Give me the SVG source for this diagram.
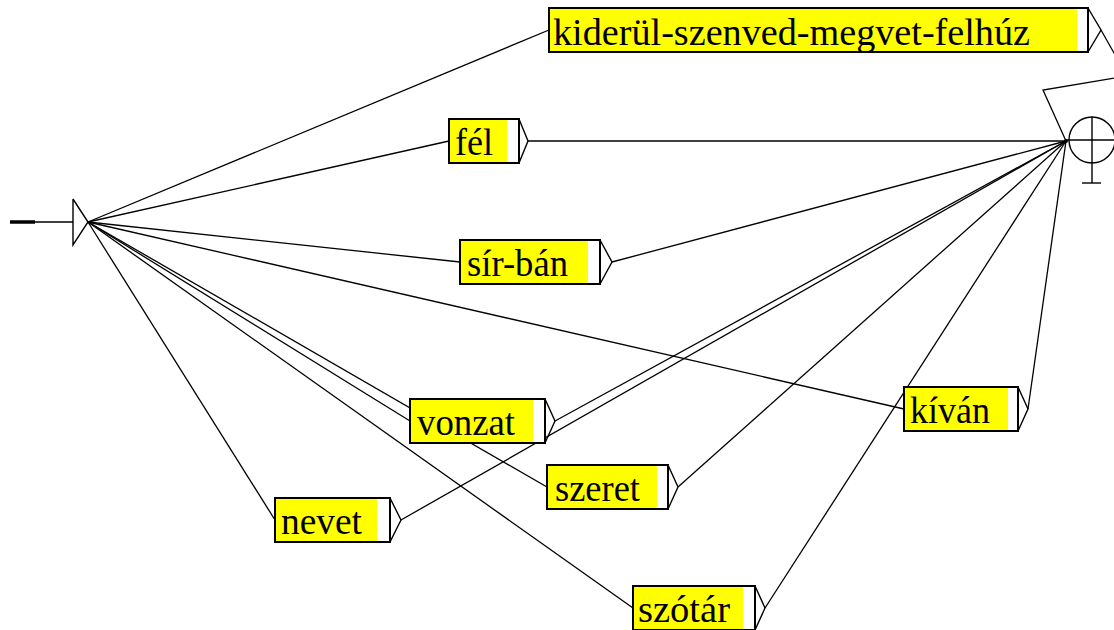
<svg xmlns="http://www.w3.org/2000/svg" width="1114" height="630" viewBox="0 0 1114 630">
<style>
.bg{fill:#fff}
.box{fill:#fff;stroke:#000;stroke-width:2}
.yel{fill:#ff0}
.lbl{font-family:"Liberation Serif","Times New Roman",serif;font-size:38px;fill:#000}
.edge{fill:none;stroke:#000;stroke-width:1.3}
.tri{fill:none;stroke:#000;stroke-width:1.4}
</style>
<rect class="bg" x="0" y="0" width="1114" height="630"/>
<g id="connectors">
  <line class="edge" x1="88" y1="222" x2="549" y2="30"/>
  <line class="edge" x1="88" y1="222" x2="449" y2="141"/>
  <line class="edge" x1="88" y1="222" x2="460" y2="262"/>
  <line class="edge" x1="88" y1="222" x2="904" y2="409"/>
  <line class="edge" x1="88" y1="222" x2="410" y2="421"/>
  <line class="edge" x1="88" y1="222" x2="547" y2="487"/>
  <line class="edge" x1="88" y1="222" x2="633" y2="608"/>
  <line class="edge" x1="88" y1="222" x2="275" y2="520"/>
  <line class="edge" x1="528" y1="141" x2="1066" y2="141"/>
  <line class="edge" x1="612" y1="262" x2="1066" y2="141"/>
  <line class="edge" x1="555" y1="421" x2="1066" y2="141"/>
  <line class="edge" x1="401" y1="520" x2="1066" y2="141"/>
  <line class="edge" x1="678" y1="487" x2="1066" y2="141"/>
  <line class="edge" x1="765" y1="608" x2="1066" y2="141"/>
  <line class="edge" x1="1028" y1="409" x2="1066" y2="141"/>
  <polyline class="edge" points="1101,30 1127,76 1043,90 1066,141"/>
</g>
<g id="start">
  <line x1="10" y1="222" x2="35" y2="222" stroke="#000" stroke-width="3.5"/>
  <line x1="35" y1="222" x2="73" y2="222" stroke="#000" stroke-width="1.3"/>
  <polyline class="tri" points="73,199 88,222 73,245 73,199"/>
</g>
<g id="end">
  <circle cx="1092" cy="140" r="23" fill="none" stroke="#000" stroke-width="1.4"/>
  <line x1="1066" y1="140" x2="1114" y2="140" stroke="#000" stroke-width="1.4"/>
  <line x1="1092" y1="117" x2="1092" y2="183" stroke="#000" stroke-width="1.4"/>
  <line x1="1082" y1="183" x2="1101" y2="183" stroke="#000" stroke-width="1.4"/>
  <circle cx="1066" cy="141" r="2" fill="#000"/>
</g>
<g id="n-kiderul">
  <rect class="box" x="549" y="8" width="539" height="44"/>
  <rect class="yel" x="550" y="9" width="527" height="42"/>
  <polyline class="tri" points="1088,8 1101,30 1088,52"/>
  <text class="lbl" x="553" y="45" textLength="477" lengthAdjust="spacingAndGlyphs">kiderül-szenved-megvet-felhúz</text>
</g>
<g id="n-fel">
  <rect class="box" x="449" y="119" width="70" height="44"/>
  <rect class="yel" x="450" y="120" width="57" height="42"/>
  <polyline class="tri" points="519,119 528,141 519,163"/>
  <text class="lbl" x="455" y="155" textLength="38" lengthAdjust="spacingAndGlyphs">fél</text>
</g>
<g id="n-sirban">
  <rect class="box" x="460" y="240" width="140" height="44"/>
  <rect class="yel" x="461" y="241" width="127" height="42"/>
  <polyline class="tri" points="600,240 612,262 600,284"/>
  <text class="lbl" x="467" y="276" textLength="101" lengthAdjust="spacingAndGlyphs">sír-bán</text>
</g>
<g id="n-vonzat">
  <rect class="box" x="410" y="399" width="135" height="44"/>
  <rect class="yel" x="411" y="400" width="122" height="42"/>
  <polyline class="tri" points="545,399 555,421 545,443"/>
  <text class="lbl" x="417" y="435" textLength="98" lengthAdjust="spacingAndGlyphs">vonzat</text>
</g>
<g id="n-szeret">
  <rect class="box" x="547" y="465" width="121" height="44"/>
  <rect class="yel" x="548" y="466" width="109" height="42"/>
  <polyline class="tri" points="668,465 678,487 668,509"/>
  <text class="lbl" x="555" y="501" textLength="85" lengthAdjust="spacingAndGlyphs">szeret</text>
</g>
<g id="n-kivan">
  <rect class="box" x="904" y="387" width="114" height="44"/>
  <rect class="yel" x="905" y="388" width="103" height="42"/>
  <polyline class="tri" points="1018,387 1028,409 1018,431"/>
  <text class="lbl" x="910" y="423" textLength="80" lengthAdjust="spacingAndGlyphs">kíván</text>
</g>
<g id="n-nevet">
  <rect class="box" x="275" y="498" width="115" height="44"/>
  <rect class="yel" x="276" y="499" width="101" height="42"/>
  <polyline class="tri" points="390,498 401,520 390,542"/>
  <text class="lbl" x="281" y="534" textLength="81" lengthAdjust="spacingAndGlyphs">nevet</text>
</g>
<g id="n-szotar">
  <rect class="box" x="633" y="586" width="122" height="44"/>
  <rect class="yel" x="634" y="587" width="109" height="42"/>
  <polyline class="tri" points="755,586 765,608 755,630"/>
  <text class="lbl" x="638" y="622" textLength="92" lengthAdjust="spacingAndGlyphs">szótár</text>
</g>
</svg>
